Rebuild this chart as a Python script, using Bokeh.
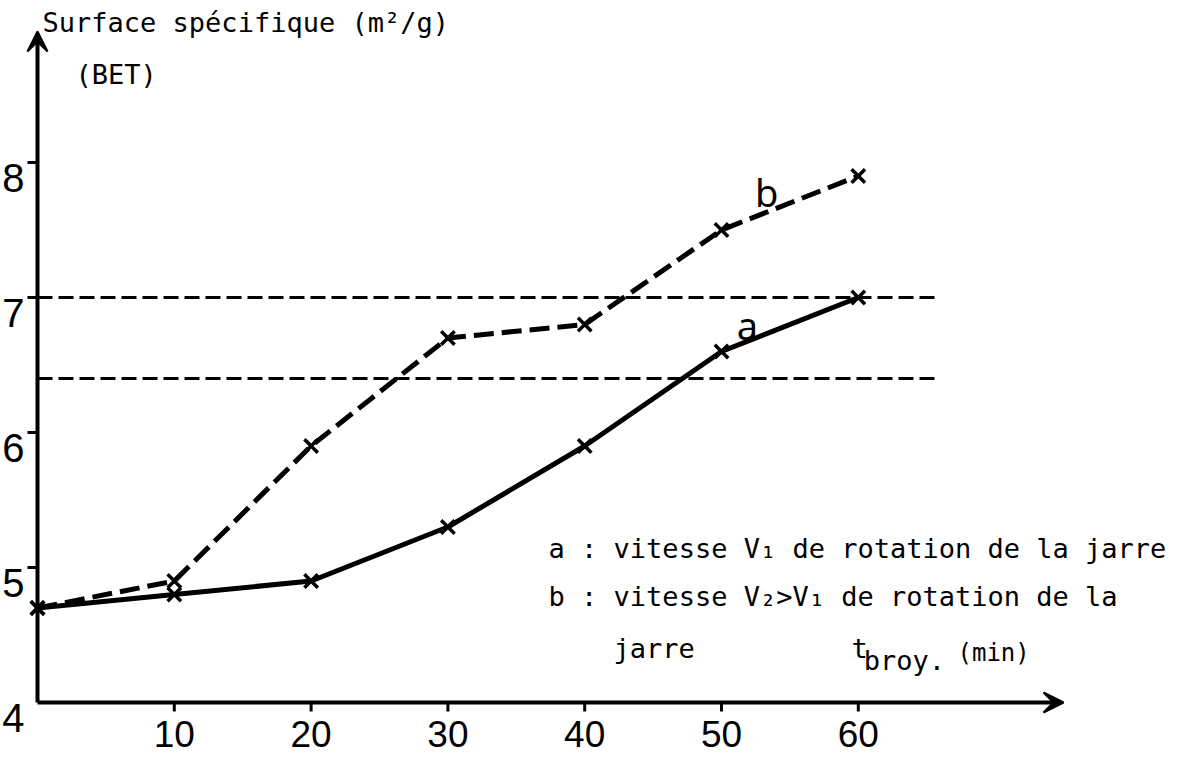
from bokeh.plotting import figure
from bokeh.models import Range1d, Arrow, VeeHead
from bokeh.core.properties import value
from bokeh.embed import file_html
from bokeh.resources import INLINE

# ---- data ----
t_min = [0, 10, 20, 30, 40, 50, 60]
surf_a = [4.7, 4.8, 4.9, 5.3, 5.9, 6.6, 7.0]
surf_b = [4.7, 4.9, 5.9, 6.7, 6.8, 7.5, 7.9]
ref_levels = [7.0, 6.4]
ref_x_end = 65.7
x_ticks = [10, 20, 30, 40, 50, 60]
x_tick_labels = ["10", "20", "30", "40", "50", "60"]
y_ticks = [4, 5, 6, 7, 8]
y_tick_labels = ["4", "5", "6", "7", "8"]
x_axis_end = 75.0
y_axis_end = 8.97

# ---- layout (pixels) ----
W, H = 1165, 753
PX0, PY0 = 37, 702      # figure pixel of x=0, y=4
SX, SY = 13.68, 135.0   # pixels per data unit

p = figure(width=W, height=H, output_backend="svg", toolbar_location=None,
           x_range=Range1d(-PX0 / SX, (W - PX0) / SX),
           y_range=Range1d(4 - (H - PY0) / SY, 4 + PY0 / SY),
           min_border=0, background_fill_color="white", border_fill_color="white")
p.outline_line_color = None
p.grid.visible = False
p.axis.visible = False

ink = "black"
mono = value("DejaVu Sans Mono")
sans = value("Liberation Sans")

# axes with arrows
p.add_layout(Arrow(x_start=0, y_start=4, x_end=x_axis_end, y_end=4, line_width=4, line_color=ink,
                   end=VeeHead(size=20, fill_color=ink, line_color=ink, line_width=2)))
p.add_layout(Arrow(x_start=0, y_start=4, x_end=0, y_end=y_axis_end, line_width=4, line_color=ink,
                   end=VeeHead(size=20, fill_color=ink, line_color=ink, line_width=2)))

# tick marks
tick_len_x = 9 / SY
tick_len_y = 10 / SX
p.segment(x0=x_ticks, y0=[4] * len(x_ticks), x1=x_ticks, y1=[4 - tick_len_x] * len(x_ticks),
          line_width=3, line_color=ink)
yt = y_ticks[1:]
p.segment(x0=[0] * len(yt), y0=yt, x1=[-tick_len_y] * len(yt), y1=yt, line_width=3, line_color=ink)

# tick labels
p.text(x=x_ticks, y=[4 - 44 / SY] * len(x_ticks), text=x_tick_labels, text_font=sans,
       text_font_size="37px", text_align="center", text_baseline="bottom", text_color=ink)
p.text(x=[-13 / SX] * len(y_ticks), y=[v - 15 / SY for v in y_ticks], text=y_tick_labels,
       text_font=sans, text_font_size="40px", text_align="right", text_baseline="alphabetic",
       text_color=ink)

# reference dashed lines
for lv in ref_levels:
    p.line(x=[0, ref_x_end], y=[lv, lv], line_width=3, line_color=ink, line_dash="15 6")

# curves
p.line(t_min, surf_a, line_width=5, line_color=ink)
p.line(t_min, surf_b, line_width=5, line_color=ink, line_dash="20 8")
p.scatter(t_min, surf_a, marker="x", size=19, line_width=3.5, line_color=ink)
p.scatter(t_min, surf_b, marker="x", size=19, line_width=3.5, line_color=ink)

# curve labels
p.text(x=[53.3], y=[7.78], text=["b"], text_font=value("Noto Sans"), text_font_size="38px",
       text_align="center", text_baseline="middle", text_color=ink)
p.text(x=[51.9], y=[6.80], text=["a"], text_font=value("Noto Sans"), text_font_size="38px",
       text_align="center", text_baseline="middle", text_color=ink)

# titles
p.text(x=[0.37], y=[9.04], text=["Surface spécifique (m²/g)"], text_font=mono, text_font_size="27px",
       text_align="left", text_baseline="middle", text_color=ink)
p.text(x=[2.78], y=[8.65], text=["(BET)"], text_font=mono, text_font_size="27px",
       text_align="left", text_baseline="middle", text_color=ink)

# legend notes
p.text(x=[37.36, 37.36, 42.1], y=[5.144, 4.782, 4.399],
       text=["a : vitesse V₁ de rotation de la jarre",
             "b : vitesse V₂>V₁ de rotation de la",
             "jarre"],
       text_font=mono, text_font_size="27px", text_align="left", text_baseline="alphabetic",
       text_color=ink)

# x-axis label
p.text(x=[59.5], y=[4.40], text=["t"], text_font=mono, text_font_size="27px",
       text_align="left", text_baseline="alphabetic", text_color=ink)
p.text(x=[60.4], y=[4.31], text=["broy."], text_font=mono, text_font_size="27px",
       text_align="left", text_baseline="alphabetic", text_color=ink)
p.text(x=[67.25], y=[4.37], text=["(min)"], text_font=mono, text_font_size="24px",
       text_align="left", text_baseline="alphabetic", text_color=ink)

open("out.html", "w").write(file_html(p, INLINE))
